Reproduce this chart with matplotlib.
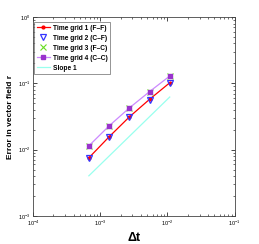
import numpy as np
import matplotlib
matplotlib.use("Agg")
import matplotlib.pyplot as plt

plt.rcParams['font.family'] = ['Liberation Sans', 'DejaVu Sans']

# step sizes and errors
dt = [0.0108, 0.0054, 0.0027, 0.00135, 0.000675]
err_ff = [0.102, 0.0574, 0.0311, 0.0156, 0.00753]
err_cf = [0.100, 0.0565, 0.0307, 0.0154, 0.00745]
err_fc = [0.129, 0.075, 0.0425, 0.0228, 0.0114]
err_cc = [0.129, 0.075, 0.0425, 0.0228, 0.0114]
slope_x = [0.0108, 0.000675]
slope_y = [0.0622, 0.00403]

fig = plt.figure(figsize=(2.59, 2.44), dpi=100)
ax = fig.add_axes([0.128, 0.115, 0.778, 0.815])

ax.plot(dt, err_ff, color='red', marker='.', ms=4, lw=0.9, label='Time grid 1 (F\u2013F)')
ax.plot(dt, err_cf, color='#3333ff', marker='v', ms=5, mfc='none', mew=0.9, ls='none',
        label='Time grid 2 (C\u2013F)')
ax.plot(dt, err_fc, color='#66dd22', marker='x', ms=4, mew=0.8, ls='none', label='Time grid 3 (F\u2013C)')
ax.plot(dt, err_cc, color='#cc88ff', marker='s', ms=2.5, mfc='#9933cc', mec='#9933cc', lw=0.9,
        label='Time grid 4 (C\u2013C)')
ax.plot(slope_x, slope_y, color='#99ffee', lw=0.9, label='Slope 1')

ax.set_xscale('log')
ax.set_yscale('log')
ax.set_xlim(1e-4, 1e-1)
ax.set_ylim(1e-3, 1e0)

ax.tick_params(which='both', direction='in', top=True, right=True, labelsize=4, pad=2)
ax.tick_params(which='major', length=3, width=0.5)
ax.tick_params(which='minor', length=1.5, width=0.4)
for s in ax.spines.values():
    s.set_linewidth(0.6)
    s.set_color('#444444')

ax.set_xlabel('\u0394t', fontsize=9, fontweight='bold', labelpad=3)
ax.set_ylabel('Error in vector field r', fontsize=6, fontweight='bold', labelpad=3)

leg = ax.legend(loc='upper left', bbox_to_anchor=(0.005, 0.975), borderaxespad=0,
                prop={'size': 4.8, 'weight': 'bold'}, fancybox=False,
                edgecolor='#444444', handlelength=2.0, labelspacing=0.45,
                borderpad=0.4, handletextpad=0.4)
leg.get_frame().set_linewidth(0.5)

fig.savefig('out.png', dpi=100)
